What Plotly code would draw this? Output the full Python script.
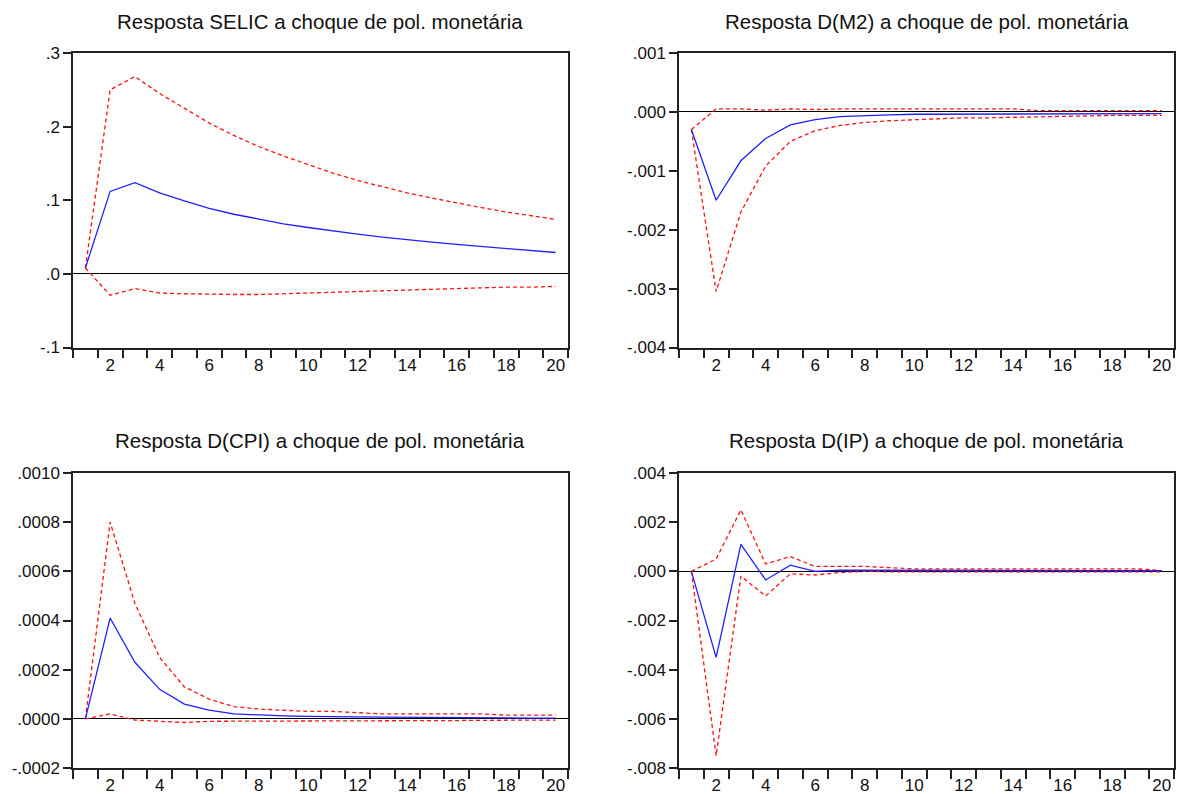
import plotly.graph_objects as go

periods = list(range(1, 21))

titles = [
    "Resposta SELIC a choque de pol. monetária",
    "Resposta D(M2) a choque de pol. monetária",
    "Resposta D(CPI) a choque de pol. monetária",
    "Resposta D(IP) a choque de pol. monetária",
]

# SELIC
selic_resp = [0.008, 0.112, 0.124, 0.110, 0.099, 0.089, 0.081, 0.074, 0.068, 0.063,
              0.058, 0.054, 0.050, 0.046, 0.043, 0.040, 0.037, 0.034, 0.032, 0.029]
selic_up = [0.008, 0.250, 0.268, 0.245, 0.225, 0.205, 0.188, 0.173, 0.160, 0.148,
            0.137, 0.127, 0.118, 0.110, 0.103, 0.096, 0.090, 0.084, 0.079, 0.074]
selic_lo = [0.008, -0.029, -0.020, -0.026, -0.027, -0.028, -0.028, -0.028, -0.027, -0.026,
            -0.025, -0.024, -0.023, -0.022, -0.021, -0.020, -0.019, -0.018, -0.018, -0.017]

# D(M2)
m2_resp = [-0.0003, -0.0015, -0.00083, -0.00045, -0.00022, -0.00013, -0.00008, -0.00006, -0.00005, -0.00004,
           -0.00004, -0.00004, -0.00004, -0.00004, -0.00004, -0.00003, -0.00003, -0.00003, -0.00003, -0.00003]
m2_up = [-0.0003, 0.00005, 0.00005, 0.00003, 0.00005, 0.00004, 0.00005, 0.00005, 0.00005, 0.00005,
         0.00005, 0.00005, 0.00005, 0.00005, 0.00002, 0.00002, 0.00002, 0.00002, 0.00002, 0.00002]
m2_lo = [-0.0003, -0.00305, -0.0017, -0.00092, -0.0005, -0.00032, -0.00023, -0.00018, -0.00015, -0.00013,
         -0.00012, -0.00010, -0.00010, -0.00009, -0.00008, -0.00007, -0.00006, -0.00006, -0.00006, -0.00006]

# D(CPI)
cpi_resp = [0.0, 0.00041, 0.00023, 0.00012, 0.00006, 0.000035, 0.00002, 0.000015, 0.000012, 0.00001,
            0.000008, 0.000008, 0.000007, 0.000006, 0.000006, 0.000005, 0.000004, 0.000004, 0.000003, 0.000003]
cpi_up = [0.0, 0.0008, 0.00047, 0.00025, 0.00013, 0.00008, 0.00005, 0.00004, 0.000035, 0.00003,
          0.00003, 0.000025, 0.00002, 0.00002, 0.00002, 0.00002, 0.00002, 0.000015, 0.000015, 0.000015]
cpi_lo = [0.0, 0.00002, -0.000005, -0.00001, -0.000015, -0.00001, -0.00001, -0.00001, -0.00001, -0.00001,
          -0.00001, -0.000008, -0.000008, -0.000008, -0.000007, -0.000007, -0.000006, -0.000006, -0.000005, -0.000005]

# D(IP)
ip_resp = [0.0, -0.0035, 0.0011, -0.00035, 0.00025, 0.0, 0.00005, 0.00005, 0.00003, 0.00003,
           0.00003, 0.00003, 0.00003, 0.00003, 0.00003, 0.00003, 0.00003, 0.00003, 0.00003, 0.00003]
ip_up = [0.0, 0.0005, 0.0025, 0.0003, 0.0006, 0.0002, 0.0002, 0.0002, 0.00015, 0.0001,
         0.0001, 0.0001, 0.0001, 0.0001, 0.0001, 0.0001, 0.0001, 0.0001, 0.0001, 0.00003]
ip_lo = [0.0, -0.0075, -0.0002, -0.001, -0.0001, -0.00015, -0.00005, 0.0, -0.00002, -0.00002,
         -0.00002, -0.00002, -0.00002, -0.00002, -0.00002, -0.00002, -0.00002, -0.00002, -0.00002, -0.00002]

series = [
    (selic_resp, selic_up, selic_lo),
    (m2_resp, m2_up, m2_lo),
    (cpi_resp, cpi_up, cpi_lo),
    (ip_resp, ip_up, ip_lo),
]

ytickvals = [
    [-0.1, 0.0, 0.1, 0.2, 0.3],
    [-0.004, -0.003, -0.002, -0.001, 0.0, 0.001],
    [-0.0002, 0.0, 0.0002, 0.0004, 0.0006, 0.0008, 0.0010],
    [-0.008, -0.006, -0.004, -0.002, 0.0, 0.002, 0.004],
]
yticktext = [
    ["-.1", ".0", ".1", ".2", ".3"],
    ["-.004", "-.003", "-.002", "-.001", ".000", ".001"],
    ["-.0002", ".0000", ".0002", ".0004", ".0006", ".0008", ".0010"],
    ["-.008", "-.006", "-.004", "-.002", ".000", ".002", ".004"],
]
yranges = [
    [-0.1, 0.3],
    [-0.004, 0.001],
    [-0.0002, 0.0010],
    [-0.008, 0.004],
]

xlabel_vals = [2, 4, 6, 8, 10, 12, 14, 16, 18, 20]
xlabel_text = [str(v) for v in xlabel_vals]
x_boundaries = [p - 0.5 for p in periods] + [20.5]

W, H = 1177, 794
xdoms = [[73 / W, 568 / W], [679 / W, 1174 / W]]
ydoms = [[1 - 347.5 / H, 1 - 53 / H], [1 - 768 / H, 1 - 473 / H]]

FONT = "Liberation Sans, Arial, sans-serif"
AXC = "#222222"

fig = go.Figure()
layout = dict(
    template="none",
    width=W, height=H,
    margin=dict(l=0, r=0, t=0, b=0, pad=0),
    paper_bgcolor="white", plot_bgcolor="white",
    showlegend=False,
    font=dict(family=FONT, size=16, color="#111111"),
)
annotations = []

for i in range(4):
    r, c = divmod(i, 2)
    ax = "" if i == 0 else str(i + 1)
    resp, up, lo = series[i]
    fig.add_trace(go.Scatter(x=periods, y=up, mode="lines",
                             line=dict(color="#FF1010", width=1.3, dash="4px,3px"),
                             xaxis="x" + ax, yaxis="y" + ax))
    fig.add_trace(go.Scatter(x=periods, y=lo, mode="lines",
                             line=dict(color="#FF1010", width=1.3, dash="4px,3px"),
                             xaxis="x" + ax, yaxis="y" + ax))
    fig.add_trace(go.Scatter(x=periods, y=resp, mode="lines",
                             line=dict(color="#2020FF", width=1.3),
                             xaxis="x" + ax, yaxis="y" + ax))
    layout["xaxis" + ax] = dict(
        domain=xdoms[c], anchor="y" + ax, range=[0.5, 20.5],
        automargin=False,
        showgrid=False, zeroline=False,
        showline=True, linecolor=AXC, linewidth=1.5, mirror=True,
        tickmode="array", tickvals=xlabel_vals, ticktext=xlabel_text,
        ticks="outside", ticklen=1, tickcolor="rgba(0,0,0,0)",
        tickfont=dict(family=FONT, size=17, color="#111111"),
        minor=dict(tickmode="array", tickvals=x_boundaries, ticks="outside",
                   ticklen=9, tickwidth=1.5, tickcolor=AXC, showgrid=False),
    )
    layout["yaxis" + ax] = dict(
        domain=ydoms[r], anchor="x" + ax, range=yranges[i],
        automargin=False,
        showgrid=False,
        zeroline=True, zerolinecolor="black", zerolinewidth=1.3,
        showline=True, linecolor=AXC, linewidth=1.5, mirror=True,
        tickmode="array", tickvals=ytickvals[i], ticktext=yticktext[i],
        ticks="outside", ticklen=8, tickwidth=1.5, tickcolor=AXC,
        tickfont=dict(family=FONT, size=17, color="#111111"),
    )
    cx = (xdoms[c][0] + xdoms[c][1]) / 2
    ty = 1 - (22 / H) if r == 0 else 1 - (440 / H)
    annotations.append(dict(text=titles[i], x=cx, y=ty, xref="paper", yref="paper",
                            xanchor="center", yanchor="middle", showarrow=False,
                            font=dict(family=FONT, size=20.5, color="#111111")))

layout["annotations"] = annotations
fig.update_layout(**layout)
fig.write_html("out.html")
